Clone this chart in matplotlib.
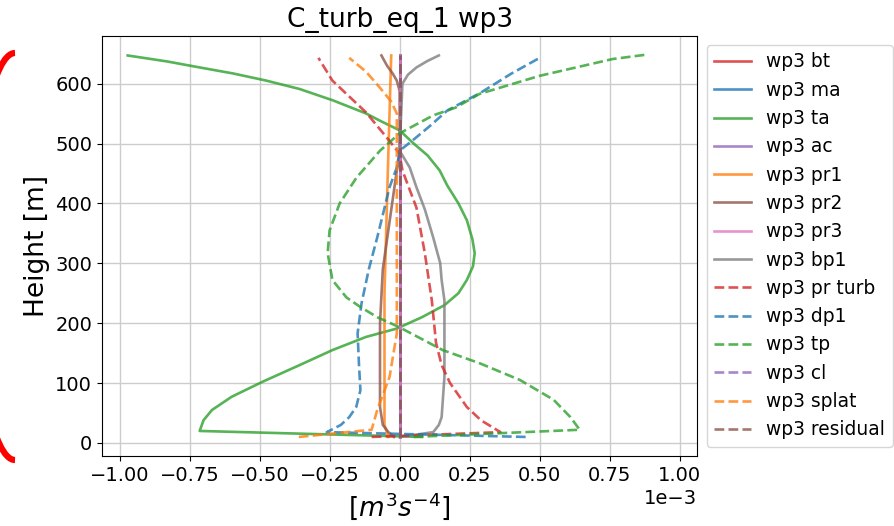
import matplotlib.pyplot as plt
from matplotlib.patches import Arc

# profiles, x values in units of 1e-3 m^3 s^-4, heights in m
z_zero = [10, 647]
bt = [0.0, 0.0]
ma = [0.0, 0.0]
ac = [0.0, 0.0]
pr3 = [0.0, 0.0]
cl = [0.0, 0.0]
residual = [0.0, 0.0]

ta_z = [10, 20, 38, 55, 77, 102, 130, 155, 177, 191, 210, 230, 250, 272, 295, 317,
        340, 372, 400, 430, 455, 480, 500, 522, 538, 550, 572, 591, 605, 617, 627,
        637, 647]
ta = [0.08, -0.714, -0.70, -0.67, -0.60, -0.49, -0.357, -0.24, -0.12, -0.01, 0.08,
      0.16, 0.21, 0.24, 0.262, 0.268, 0.26, 0.24, 0.21, 0.17, 0.143, 0.10, 0.05, 0.0,
      -0.07, -0.119, -0.238, -0.357, -0.476, -0.595, -0.714, -0.83, -0.971]

pr1_z = [10, 30, 250, 438, 647]
pr1 = [-0.04, -0.054, -0.054, -0.043, -0.03]

pr2_z = [10, 18, 30, 60, 200, 290, 455, 480, 588, 605, 617, 630, 647]
pr2 = [-0.02, -0.04, -0.06, -0.07, -0.07, -0.06, -0.01, 0.0, 0.0, -0.01, -0.025,
       -0.045, -0.065]

bp1_z = [10, 18, 30, 43, 110, 238, 272, 300, 343, 390, 427, 460, 488, 600, 615, 627,
         638, 647]
bp1 = [0.0, 0.12, 0.14, 0.15, 0.16, 0.16, 0.15, 0.145, 0.12, 0.09, 0.06, 0.036, 0.0,
       0.01, 0.03, 0.06, 0.10, 0.14]

prturb_z = [10, 18, 38, 60, 80, 100, 130, 167, 238, 317, 393, 455, 483, 510, 552,
            605, 643]
prturb = [-0.10, 0.36, 0.29, 0.24, 0.21, 0.18, 0.15, 0.13, 0.115, 0.09, 0.06, 0.01,
          0.0, -0.046, -0.12, -0.24, -0.29]

dp1_z = [10, 18, 30, 43, 60, 88, 130, 183, 233, 290, 343, 400, 427, 460, 488, 505,
         530, 555, 585, 617, 643]
dp1 = [0.45, -0.26, -0.21, -0.18, -0.155, -0.14, -0.145, -0.15, -0.136, -0.11, -0.08,
       -0.05, -0.036, -0.01, 0.0, 0.046, 0.11, 0.17, 0.29, 0.40, 0.50]

tp_z = [10, 22, 43, 72, 105, 133, 155, 193, 210, 227, 243, 272, 317, 355, 400, 443,
        488, 517, 547, 560, 583, 613, 641, 648]
tp = [0.05, 0.643, 0.61, 0.55, 0.43, 0.286, 0.154, 0.0, -0.08, -0.14, -0.19, -0.24,
      -0.257, -0.25, -0.214, -0.154, -0.07, 0.0, 0.12, 0.20, 0.286, 0.50, 0.76, 0.875]

splat_z = [10, 22, 55, 110, 183, 240, 350, 455, 550, 570, 593, 620, 643]
splat = [-0.36, -0.10, -0.08, -0.036, -0.01, -0.01, -0.01, -0.01, -0.01, -0.03,
         -0.07, -0.12, -0.18]

series = [
    ("wp3 bt", z_zero, bt, "tab:red", "-"),
    ("wp3 ma", z_zero, ma, "tab:blue", "-"),
    ("wp3 ta", ta_z, ta, "tab:green", "-"),
    ("wp3 ac", z_zero, ac, "tab:purple", "-"),
    ("wp3 pr1", pr1_z, pr1, "tab:orange", "-"),
    ("wp3 pr2", pr2_z, pr2, "tab:brown", "-"),
    ("wp3 pr3", z_zero, pr3, "tab:pink", "-"),
    ("wp3 bp1", bp1_z, bp1, "tab:gray", "-"),
    ("wp3 pr turb", prturb_z, prturb, "tab:red", "--"),
    ("wp3 dp1", dp1_z, dp1, "tab:blue", "--"),
    ("wp3 tp", tp_z, tp, "tab:green", "--"),
    ("wp3 cl", z_zero, cl, "tab:purple", "--"),
    ("wp3 splat", splat_z, splat, "tab:orange", "--"),
    ("wp3 residual", z_zero, residual, "tab:brown", "--"),
]

fig = plt.figure(figsize=(8.94, 5.26), dpi=100)
ax = fig.add_axes([0.114, 0.133, 0.666, 0.799])

for label, z, x, color, ls in series:
    ax.plot([v * 1e-3 for v in x], z, ls, color=color, label=label, lw=1.9, alpha=0.8)

ax.set_xlim(-1.063e-3, 1.063e-3)
ax.ticklabel_format(axis="x", style="sci", scilimits=(-3, 3))
ax.set_title("C_turb_eq_1 wp3", fontsize=19)
ax.set_ylabel("Height [m]", fontsize=19)
ax.set_xlabel(r"$[m^3s^{-4}]$", fontsize=19)
ax.tick_params(labelsize=14)
ax.xaxis.get_offset_text().set_fontsize(14)
ax.grid(True, color="#cccccc", lw=1)
ax.legend(loc="center left", bbox_to_anchor=(1, 0.5), fontsize=13.4)

# red bracket on the left edge of the picture
fig.add_artist(Arc((15 / 894, 269.5 / 526), 80 / 894, 407 / 526, theta1=90, theta2=270,
                   transform=fig.transFigure, color="red", lw=4.5))

fig.savefig("out.png", dpi=100)
